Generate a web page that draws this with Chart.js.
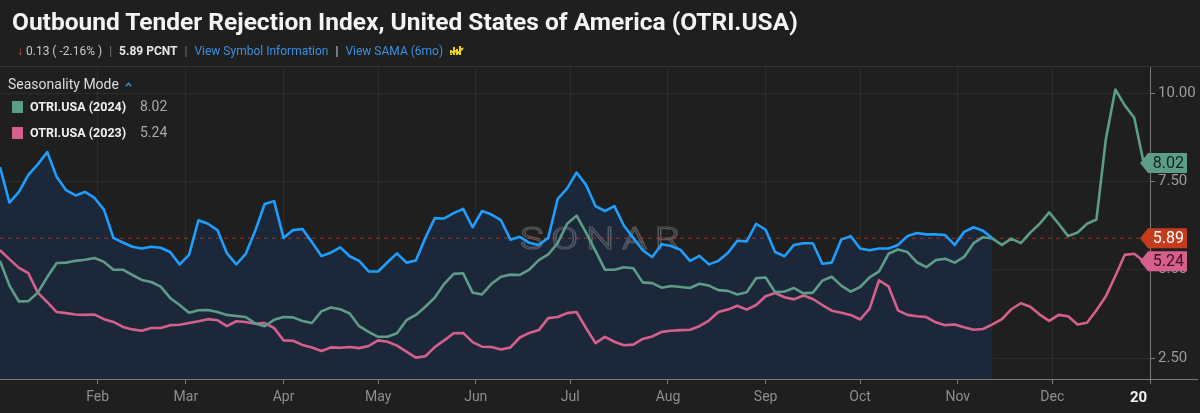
<!DOCTYPE html>
<html>
<head>
<meta charset="utf-8">
<script src="https://cdn.jsdelivr.net/npm/chart.js@4.4.1/dist/chart.umd.min.js"></script>
<style>
  html, body { margin: 0; padding: 0; background: #1f1f1f; }
  body { width: 1200px; height: 413px; position: relative; overflow: hidden; font-family: Roboto, "Noto Sans", sans-serif; }
  #wrap { position: absolute; left: 0; top: 0; width: 1200px; height: 413px; }
  #hdr { position: absolute; left: 0; top: 0; width: 1200px; height: 66px; border-bottom: 1px solid #343434; }
  .title { position: absolute; left: 12px; top: 7px; font-weight: 700; font-size: 24.5px; color: #f4f4f4; white-space: nowrap; }
  .sub { position: absolute; left: 17px; top: 44px; font-size: 12px; color: #c8c8c8; white-space: nowrap; }
  .sub .sep { color: #777; margin: 0 7px; }
  .sub .link { color: #3d8fe0; }
  .sub .down { color: #e0504a; font-weight: 700; margin-right: 3px; }
  .legend { position: absolute; left: 8px; top: 76px; color: #dcdcdc; font-size: 14px; white-space: nowrap; }
  .legend svg { margin-left: 6px; vertical-align: 2px; }
  .row { position: absolute; left: 12px; height: 16px; white-space: nowrap; }
  .row .sw { position: absolute; left: 0; top: 1px; width: 11px; height: 12px; }
  .row .nm { position: absolute; left: 18px; top: -1px; font-weight: 700; font-size: 12.5px; color: #f0f0f0; }
  .row .val { position: absolute; left: 128px; top: -2px; font-size: 14px; color: #a8a8a8; }
</style>
</head>
<body>
<div id="wrap"><canvas id="otri" width="1200" height="413"></canvas></div>
<div id="hdr">
  <div class="title">Outbound Tender Rejection Index, United States of America (OTRI.USA)</div>
  <div class="sub"><span class="down">&#8595;</span>0.13 ( -2.16% )<span class="sep">|</span><b style="color:#e6e6e6">5.89 PCNT</b><span class="sep">|</span><span class="link">View Symbol Information</span><span class="sep" style="color:#ddd">|</span><span class="link">View SAMA (6mo)</span>
    <svg width="15" height="13" viewBox="0 0 15 13" style="vertical-align:-2px;margin-left:3px"><path d="M2 11 L2 6 M5 11 L5 3 M8 11 L8 5 M11 11 L11 2 M1 9 L6 7 L9 9 L14 4" stroke="#e8d21c" stroke-width="2" fill="none"/></svg>
  </div>
</div>
<div class="legend">Seasonality Mode<svg width="7" height="5" viewBox="0 0 7 5"><path d="M0.8 4.2 L3.5 1.3 L6.2 4.2" stroke="#3d8fe0" stroke-width="1.5" fill="none"/></svg></div>
<div class="row" style="top:100px"><span class="sw" style="background:#5d9c88"></span><span class="nm">OTRI.USA (2024)</span><span class="val">8.02</span></div>
<div class="row" style="top:126px"><span class="sw" style="background:#d6608d"></span><span class="nm">OTRI.USA (2023)</span><span class="val">5.24</span></div>

<script>
// one sample every 3 days, day 0 = Jan 1
const stepDays = 3;

const otri2025 = [
  7.9, 6.9, 7.2, 7.68, 7.98, 8.33, 7.62, 7.25, 7.1, 7.2,
  7.03, 6.7, 5.9, 5.77, 5.65, 5.6, 5.65, 5.62, 5.5, 5.15,
  5.42, 6.4, 6.3, 6.12, 5.47, 5.15, 5.45, 6.1, 6.86, 6.94,
  5.9, 6.12, 6.15, 5.78, 5.39, 5.48, 5.63, 5.38, 5.25, 4.95,
  4.95, 5.21, 5.46, 5.2, 5.26, 5.9, 6.46, 6.45, 6.6, 6.72,
  6.2, 6.66, 6.56, 6.4, 5.85, 5.93, 5.76, 5.7, 5.9, 7.0,
  7.3, 7.75, 7.4, 6.8, 6.66, 6.8, 6.25, 5.9, 5.55, 5.36,
  5.72, 5.67, 5.56, 5.25, 5.39, 5.15, 5.25, 5.47, 5.82, 5.8,
  6.3, 6.13, 5.5, 5.38, 5.7, 5.75, 5.75, 5.17, 5.2, 5.85,
  5.95, 5.6, 5.55, 5.6, 5.6, 5.7, 5.95, 6.04, 6.0, 6.0,
  5.98, 5.7, 6.07, 6.2, 6.1, 5.89
];

const otri2024 = [
  5.25, 4.55, 4.1, 4.11, 4.35, 4.79, 5.19, 5.2, 5.25, 5.28,
  5.33, 5.22, 5.0, 5.0, 4.85, 4.71, 4.65, 4.52, 4.2, 4.0,
  3.78, 3.85, 3.86, 3.8, 3.72, 3.69, 3.66, 3.48, 3.4, 3.58,
  3.66, 3.65, 3.55, 3.49, 3.82, 3.93, 3.88, 3.76, 3.4, 3.24,
  3.1, 3.1, 3.2, 3.57, 3.72, 3.95, 4.21, 4.6, 4.88, 4.9,
  4.35, 4.3, 4.6, 4.8, 4.86, 4.85, 5.0, 5.27, 5.43, 5.75,
  6.3, 6.53, 6.05, 5.53, 5.0, 5.0, 5.07, 5.04, 4.64, 4.62,
  4.49, 4.54, 4.51, 4.48, 4.6, 4.55, 4.42, 4.4, 4.3, 4.36,
  4.76, 4.78, 4.37, 4.38, 4.48, 4.33, 4.35, 4.69, 4.8, 4.55,
  4.38, 4.51, 4.78, 4.95, 5.45, 5.57, 5.5, 5.21, 5.07, 5.27,
  5.31, 5.2, 5.36, 5.75, 5.92, 5.88, 5.7, 5.88, 5.75, 6.05,
  6.3, 6.62, 6.3, 5.95, 6.05, 6.3, 6.42, 8.7, 10.1, 9.65,
  9.3, 8.02
];

const otri2023 = [
  5.55, 5.3, 5.05, 4.9, 4.35, 4.08, 3.8, 3.77, 3.73, 3.72,
  3.73, 3.6, 3.52, 3.38, 3.31, 3.27, 3.35, 3.35, 3.43, 3.44,
  3.49, 3.54, 3.6, 3.57, 3.4, 3.54, 3.52, 3.47, 3.49, 3.35,
  3.0, 2.99, 2.87, 2.8, 2.7, 2.8, 2.79, 2.81, 2.78, 2.84,
  3.0, 2.96, 2.85, 2.68, 2.51, 2.55, 2.81, 3.0, 3.2, 3.21,
  2.95, 2.82, 2.81, 2.74, 2.8, 3.08, 3.21, 3.29, 3.63, 3.66,
  3.77, 3.8, 3.35, 2.92, 3.1, 2.96, 2.86, 2.88, 3.04, 3.11,
  3.24, 3.27, 3.29, 3.3, 3.4, 3.56, 3.8, 3.87, 3.98, 3.87,
  4.0, 4.25, 4.34, 4.22, 4.16, 4.27, 4.17, 4.0, 3.84, 3.78,
  3.72, 3.59, 3.9, 4.7, 4.53, 3.85, 3.72, 3.68, 3.66, 3.51,
  3.43, 3.45, 3.37, 3.3, 3.32, 3.45, 3.6, 3.88, 4.05, 3.95,
  3.73, 3.55, 3.72, 3.68, 3.45, 3.5, 3.85, 4.25, 4.82, 5.42,
  5.45, 5.24
];

const currentValue = 5.89;
const monthTicks = [31, 59, 90, 120, 151, 181, 212, 243, 273, 304, 334, 365];
const monthLabels = ['Feb', 'Mar', 'Apr', 'May', 'Jun', 'Jul', 'Aug', 'Sep', 'Oct', 'Nov', 'Dec', '20'];
const yTicks = [2.5, 5, 7.5, 10];

const BLUE = '#1f9efd';
const GREEN = '#5d9c88';
const PINK = '#d6608d';
const RED = '#c43c1d';

function toPoints(arr) {
    return arr.map((v, i) => ({ x: i * stepDays, y: v }));
}

// end-of-series tags on the right axis + watermark
const extras = {
    id: 'extras',
    beforeDatasetsDraw(chart) {
        const ctx = chart.ctx;
        const a = chart.chartArea;
        const cx = (a.left + a.right) / 2 + 25;
        ctx.save();
        ctx.font = '300 31px Roboto';
        ctx.letterSpacing = '6px';
        const w = ctx.measureText('SONAR').width - 6;
        ctx.translate(cx, 241);
        ctx.scale(160 / w, 1);
        ctx.strokeStyle = 'rgba(175,175,175,0.38)';
        ctx.lineWidth = 1.2;
        ctx.textAlign = 'left';
        ctx.textBaseline = 'middle';
        ctx.strokeText('SONAR', -w / 2, 0);
        ctx.restore();
    },
    afterDraw(chart) {
        const ctx = chart.ctx;
        const y = chart.scales.y;
        const a = chart.chartArea;
        ctx.save();
        // bottom axis line runs to the page edge
        ctx.strokeStyle = '#7a7a7a';
        ctx.lineWidth = 1;
        ctx.beginPath();
        ctx.moveTo(a.right, a.bottom + 0.5);
        ctx.lineTo(1198, a.bottom + 0.5);
        ctx.stroke();

        const tags = [
            { v: otri2024[otri2024.length - 1], bg: GREEN, fg: '#10231d' },
            { v: currentValue, bg: RED, fg: '#ffffff' },
            { v: otri2023[otri2023.length - 1], bg: PINK, fg: '#3a0c1e' }
        ];
        ctx.font = '16px Roboto';
        ctx.textAlign = 'right';
        ctx.textBaseline = 'middle';
        tags.forEach(t => {
            const py = y.getPixelForValue(t.v);
            const x0 = a.right - 10, x1 = a.right - 2, x2 = 1187, h = 10;
            ctx.fillStyle = t.bg;
            ctx.beginPath();
            ctx.moveTo(x0, py);
            ctx.lineTo(x1, py - h);
            ctx.lineTo(x2, py - h);
            ctx.lineTo(x2, py + h);
            ctx.lineTo(x1, py + h);
            ctx.closePath();
            ctx.fill();
            ctx.fillStyle = t.fg;
            ctx.fillText(t.v.toFixed(2), x2 - 3, py + 1);
        });
        ctx.restore();
    }
};

const lastTick = monthLabels.length - 1;

const chart = new Chart(document.getElementById('otri'), {
    type: 'line',
    data: {
        datasets: [
            {
                label: 'OTRI.USA (2025)',
                data: toPoints(otri2025),
                borderColor: BLUE,
                borderWidth: 2.6,
                backgroundColor: '#1c2739',
                fill: 'start'
            },
            {
                label: 'OTRI.USA (2024)',
                data: toPoints(otri2024),
                borderColor: GREEN,
                borderWidth: 2.6,
                fill: false
            },
            {
                label: 'OTRI.USA (2023)',
                data: toPoints(otri2023),
                borderColor: PINK,
                borderWidth: 2.6,
                fill: false
            },
            {
                label: 'current',
                data: [{ x: 0, y: currentValue }, { x: 365, y: currentValue }],
                borderColor: 'rgba(196,60,29,0.75)',
                borderWidth: 1,
                borderDash: [4, 4],
                fill: false
            }
        ]
    },
    options: {
        responsive: false,
        animation: false,
        devicePixelRatio: 1,
        layout: { padding: { top: 67, left: 0, right: 0, bottom: 0 } },
        elements: {
            point: { radius: 0 },
            line: { tension: 0, borderJoinStyle: 'round' }
        },
        scales: {
            x: {
                type: 'linear',
                min: 0,
                max: 365,
                afterBuildTicks: s => { s.ticks = monthTicks.map(v => ({ value: v })); },
                afterFit: s => { s.height = 34; },
                grid: { color: 'rgba(255,255,255,0.055)', tickLength: 5, tickColor: '#7a7a7a' },
                border: { display: true, color: '#7a7a7a' },
                ticks: {
                    autoSkip: false,
                    maxRotation: 0,
                    padding: 5,
                    // year label sits left of the axis edge, as in the source
                    callback: (v, i) => i === lastTick ? monthLabels[i] + '\u2003\u2002' : monthLabels[i],
                    color: c => c.index === lastTick ? '#f2f2f2' : '#8e8e8e',
                    font: c => c.index === lastTick
                        ? { family: 'Roboto', size: 15, weight: 'bold' }
                        : { family: 'Roboto', size: 14 }
                }
            },
            y: {
                position: 'right',
                min: 1.906,
                max: 10.736,
                afterBuildTicks: s => { s.ticks = yTicks.map(v => ({ value: v })); },
                afterFit: s => { s.width = 50; },
                grid: { color: 'rgba(255,255,255,0.055)', tickLength: 5, tickColor: '#7a7a7a' },
                border: { display: true, color: '#7a7a7a' },
                ticks: {
                    padding: 3,
                    color: '#9c9c9c',
                    font: { family: 'Roboto', size: 15 },
                    callback: v => v.toFixed(2)
                }
            }
        },
        plugins: {
            legend: { display: false },
            tooltip: { enabled: false },
            filler: { drawTime: 'beforeDatasetsDraw' }
        }
    },
    plugins: [extras]
});
</script>
</body>
</html>
